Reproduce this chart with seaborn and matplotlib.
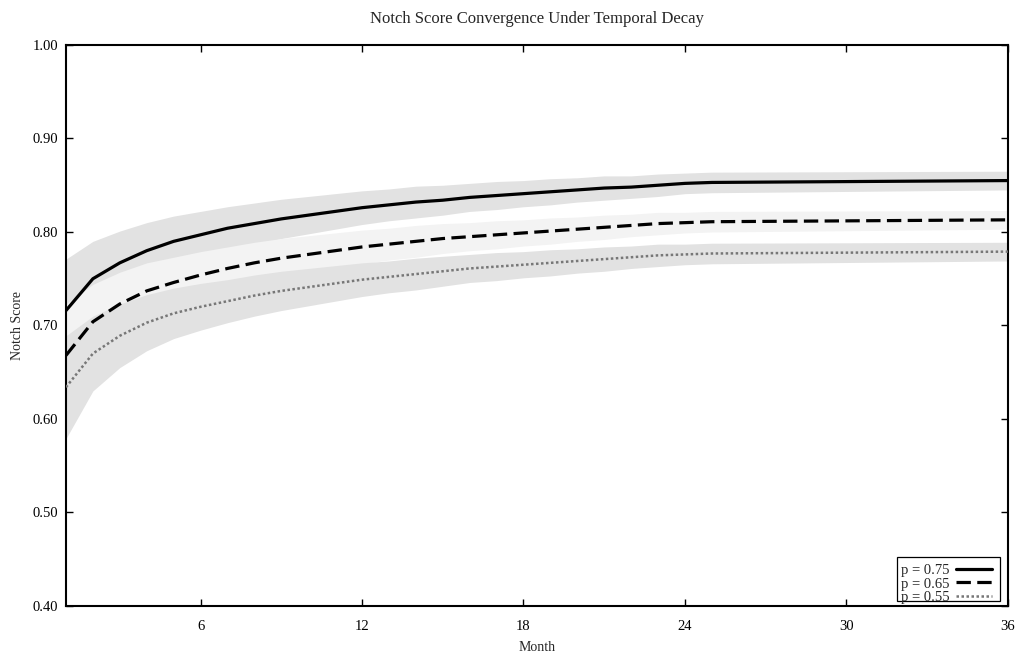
import numpy as np
import pandas as pd
import matplotlib
matplotlib.use("Agg")
import matplotlib.pyplot as plt
from matplotlib.patches import Rectangle
import seaborn as sns

months = [1, 2, 3, 4, 5, 6, 7, 8, 9, 10, 11, 12, 13, 14, 15, 16, 17, 18, 19, 20,
          21, 22, 23, 24, 25, 36]
p75 = [0.716, 0.750, 0.767, 0.780, 0.790, 0.797, 0.804, 0.809, 0.814, 0.818, 0.822,
       0.826, 0.829, 0.832, 0.834, 0.837, 0.839, 0.841, 0.843, 0.845, 0.847, 0.848,
       0.850, 0.852, 0.853, 0.855]
p65 = [0.668, 0.704, 0.723, 0.737, 0.746, 0.754, 0.761, 0.767, 0.772, 0.776, 0.780,
       0.784, 0.787, 0.790, 0.793, 0.795, 0.797, 0.799, 0.801, 0.803, 0.805, 0.807,
       0.809, 0.810, 0.811, 0.813]
p55 = [0.634, 0.670, 0.689, 0.703, 0.713, 0.720, 0.726, 0.732, 0.737, 0.741, 0.745,
       0.749, 0.752, 0.755, 0.758, 0.761, 0.763, 0.765, 0.767, 0.769, 0.771, 0.773,
       0.775, 0.776, 0.777, 0.779]
band_halfwidth = [0.055, 0.040, 0.034, 0.030, 0.027, 0.025, 0.023, 0.022, 0.021, 0.020,
                  0.019, 0.018, 0.017, 0.017, 0.016, 0.015, 0.015, 0.014, 0.014, 0.013,
                  0.013, 0.012, 0.012, 0.011, 0.011, 0.010]
series_labels = ["p = 0.75", "p = 0.65", "p = 0.55"]
x_ticks = [6, 12, 18, 24, 30, 36]
y_ticks = [0.40, 0.50, 0.60, 0.70, 0.80, 0.90, 1.00]

sns.set_style("ticks")
plt.rcParams["font.family"] = ["Liberation Serif", "DejaVu Serif"]

fig = plt.figure(figsize=(10.15, 6.54), dpi=100)
ax = fig.add_axes([0.065, 0.0734, 0.928, 0.8578])

values = [p75, p65, p55]
band_colors = ["#e2e2e2", "#f3f3f3", "#e2e2e2"]
line_colors = ["#000000", "#000000", "#777777"]
line_styles = ["-", (0, (4.5, 2.0)), (0, (1.0, 1.0))]
line_widths = [2.3, 2.3, 1.8]

hw = np.array(band_halfwidth)
for vals, bc in zip(values, band_colors):
    v = np.array(vals)
    ax.fill_between(months, v - hw, v + hw, color=bc, linewidth=0, zorder=1)

frames = []
for lab, vals in zip(series_labels, values):
    frames.append(pd.DataFrame({"Month": months, "Score": vals, "series": lab}))
df = pd.concat(frames, ignore_index=True)

handles = []
for lab, col, ls, lw in zip(series_labels, line_colors, line_styles, line_widths):
    sub = df[df["series"] == lab]
    sns.lineplot(data=sub, x="Month", y="Score", ax=ax, color=col, linewidth=lw,
                 linestyle=ls, zorder=3, legend=False)
    handles.append(plt.Line2D([], [], color=col, linewidth=lw, linestyle=ls, label=lab))

ax.set_xlim(1, 36)
ax.set_ylim(0.40, 1.00)
ax.set_xticks(x_ticks)
ax.set_xticklabels([str(t) for t in x_ticks])
ax.set_yticks(y_ticks)
ax.set_yticklabels([f"{t:.2f}" for t in y_ticks])
ax.tick_params(direction="in", top=True, right=True, labelsize=10.5, length=5,
               width=1.0, colors="black")
ax.tick_params(axis="x", pad=10)
ax.tick_params(axis="y", pad=5.5)
for s in ax.spines.values():
    s.set_visible(True)
    s.set_linewidth(1.5)
    s.set_color("black")

ax.set_title("Notch Score Convergence Under Temporal Decay", fontsize=12, pad=16)
ax.set_xlabel("Month", fontsize=10, labelpad=6)
ax.set_ylabel("Notch Score", fontsize=10, labelpad=6)

# legend frame (gnuplot-style tight box)
ax.add_patch(Rectangle((0.8822, 0.0089), 0.1093, 0.0784, transform=ax.transAxes,
                       facecolor="white", edgecolor="black", linewidth=0.9,
                       zorder=5, clip_on=False))
leg = ax.legend(handles=handles, loc="lower right", markerfirst=False, fontsize=10.5,
                frameon=False, handlelength=2.45, handletextpad=0.45,
                borderpad=0.0, labelspacing=0.0, borderaxespad=0.0,
                bbox_to_anchor=(0.983, 0.004))
leg.set_zorder(6)

fig.savefig("out.png", dpi=100)
